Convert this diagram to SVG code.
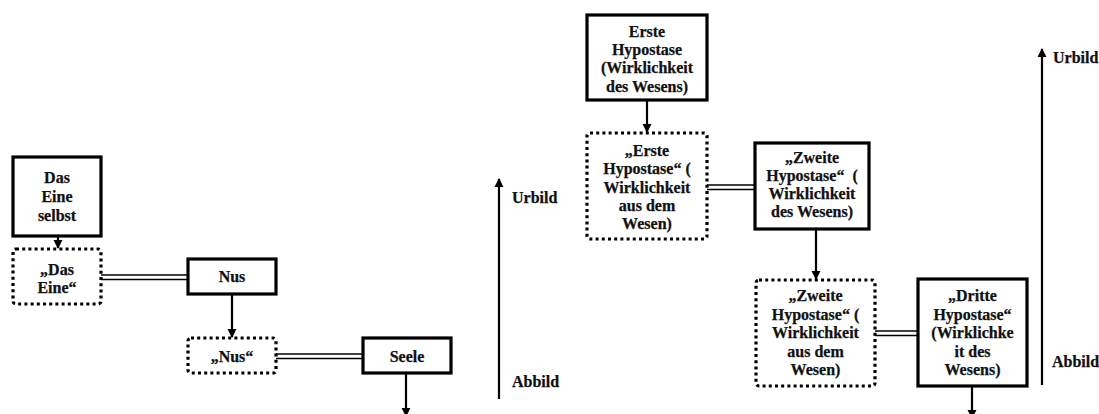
<svg xmlns="http://www.w3.org/2000/svg" width="1099" height="414" viewBox="0 0 1099 414">
<defs>
<style>
.box{fill:#fff;stroke:#000;stroke-width:3.2}
.dbox{fill:#fff;stroke:#000;stroke-width:3.2;stroke-dasharray:3 3.2}
.t{font-family:"Liberation Serif","Times New Roman",serif;font-weight:bold;font-size:16px;fill:#111;stroke:#111;stroke-width:0.25;text-anchor:middle}
.lab{font-family:"Liberation Serif","Times New Roman",serif;font-weight:bold;font-size:16px;fill:#111;stroke:#111;stroke-width:0.25}
.arr{stroke:#000;stroke-width:2.2;fill:none;marker-end:url(#ah)}
.dbl{stroke:#000;stroke-width:1.4;fill:none}
</style>
<marker id="ah" viewBox="0 0 10 10" refX="9" refY="5" markerWidth="4.2" markerHeight="4.2" orient="auto" markerUnits="strokeWidth">
<path d="M0,0 L10,5 L0,10 Z" fill="#000"/>
</marker>
</defs>
<rect width="1099" height="414" fill="#fff"/>

<g id="connectors">
<line class="arr" x1="58" y1="236" x2="58" y2="248"/>
<line class="arr" x1="232" y1="294" x2="232" y2="337"/>
<line class="arr" x1="406" y1="373" x2="406" y2="416"/>
<line class="dbl" x1="101" y1="275" x2="188" y2="275"/>
<line class="dbl" x1="101" y1="279.5" x2="188" y2="279.5"/>
<line class="dbl" x1="276" y1="354" x2="363" y2="354"/>
<line class="dbl" x1="276" y1="358.5" x2="363" y2="358.5"/>
<line class="arr" x1="647" y1="100" x2="647" y2="132"/>
<line class="arr" x1="816" y1="229" x2="816" y2="279"/>
<line class="arr" x1="972" y1="386" x2="972" y2="418"/>
<line class="dbl" x1="707" y1="185" x2="755" y2="185"/>
<line class="dbl" x1="707" y1="189.5" x2="755" y2="189.5"/>
<line class="dbl" x1="875" y1="331" x2="918" y2="331"/>
<line class="dbl" x1="875" y1="335.5" x2="918" y2="335.5"/>
<line class="arr" x1="499" y1="399" x2="499" y2="179"/>
<line class="arr" x1="1042" y1="385" x2="1042" y2="49"/>
</g>

<g id="das-eine-selbst">
<rect class="box" x="13" y="157" width="88" height="79"/>
<text class="t"><tspan x="57" y="183">Das</tspan><tspan x="57" y="201.7">Eine</tspan><tspan x="57" y="220.5">selbst</tspan></text>
</g>
<g id="das-eine">
<rect class="dbox" x="13" y="249" width="88" height="55" rx="3"/>
<text class="t"><tspan x="57" y="275">„Das</tspan><tspan x="57" y="292.7">Eine“</tspan></text>
</g>
<g id="nus">
<rect class="box" x="188" y="259" width="88" height="35"/>
<text class="t" x="232" y="282">Nus</text>
</g>
<g id="nus-quoted">
<rect class="dbox" x="188" y="338" width="88" height="35" rx="3"/>
<text class="t" x="232" y="362">„Nus“</text>
</g>
<g id="seele">
<rect class="box" x="363" y="338" width="88" height="35"/>
<text class="t" x="407" y="362">Seele</text>
</g>
<g id="axis-left">
<text class="lab" x="512" y="203">Urbild</text>
<text class="lab" x="512" y="387">Abbild</text>
</g>

<g id="erste-hypostase">
<rect class="box" x="587" y="15" width="120" height="85"/>
<text class="t"><tspan x="647" y="36.7">Erste</tspan><tspan x="647" y="55">Hypostase</tspan><tspan x="647" y="73.3">(Wirklichkeit</tspan><tspan x="647" y="91.7">des Wesens)</tspan></text>
</g>
<g id="erste-hypostase-quoted">
<rect class="dbox" x="587" y="133" width="120" height="106" rx="3"/>
<text class="t"><tspan x="647" y="156">„Erste</tspan><tspan x="647" y="174.3">Hypostase“ (</tspan><tspan x="647" y="192.6">Wirklichkeit</tspan><tspan x="647" y="210.9">aus dem</tspan><tspan x="647" y="229.2">Wesen)</tspan></text>
</g>
<g id="zweite-hypostase">
<rect class="box" x="755" y="143" width="114" height="86"/>
<text class="t"><tspan x="812" y="162.7">„Zweite</tspan><tspan x="812" y="180.9">Hypostase“&#160; (</tspan><tspan x="812" y="199.2">Wirklichkeit</tspan><tspan x="812" y="217.4">des Wesens)</tspan></text>
</g>
<g id="zweite-hypostase-quoted">
<rect class="dbox" x="756" y="280" width="119" height="106" rx="3"/>
<text class="t"><tspan x="815.5" y="301">„Zweite</tspan><tspan x="815.5" y="319.5">Hypostase“ (</tspan><tspan x="815.5" y="338">Wirklichkeit</tspan><tspan x="815.5" y="356.5">aus dem</tspan><tspan x="815.5" y="375">Wesen)</tspan></text>
</g>
<g id="dritte-hypostase">
<rect class="box" x="918" y="279" width="109" height="107"/>
<text class="t"><tspan x="972.5" y="301">„Dritte</tspan><tspan x="972.5" y="319.5">Hypostase“</tspan><tspan x="972.5" y="338">(Wirklichke</tspan><tspan x="972.5" y="356.5">it des</tspan><tspan x="972.5" y="375">Wesens)</tspan></text>
</g>
<g id="axis-right">
<text class="lab" x="1053" y="63">Urbild</text>
<text class="lab" x="1052" y="367">Abbild</text>
</g>
</svg>
